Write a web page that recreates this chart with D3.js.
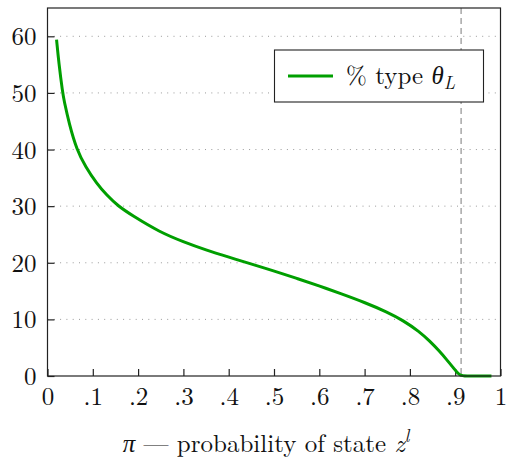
<!DOCTYPE html>
<html>
<head>
<meta charset="utf-8">
<script src="https://cdn.jsdelivr.net/npm/d3@7"></script>
<style>
  html, body { margin: 0; padding: 0; background: #fff; }
</style>
</head>
<body>
<div id="container"></div>
<script>
// Values
const piValues = [0.02, 0.025, 0.0335, 0.0364, 0.048, 0.0644, 0.084, 0.1086, 0.13, 0.156, 0.186, 0.248, 0.3, 0.35, 0.4, 0.443, 0.5, 0.55, 0.6, 0.646, 0.7, 0.75, 0.785, 0.82, 0.844, 0.865, 0.881, 0.897, 0.91, 0.925, 0.95, 0.98];
const pctTypeL = [59.4, 55.3, 50, 48.7, 44.5, 40, 36.95, 34.0, 32.0, 30, 28.4, 25.4, 23.7, 22.25, 21.0, 19.95, 18.55, 17.25, 15.9, 14.6, 13.0, 11.3, 9.8, 7.9, 6.15, 4.4, 2.9, 1.35, 0, 0, 0, 0];
const xTicks = [0, 0.1, 0.2, 0.3, 0.4, 0.5, 0.6, 0.7, 0.8, 0.9, 1];
const yTicks = [0, 10, 20, 30, 40, 50, 60];
const cutoff = 0.913;   // dashed vertical marker

const width = 510;
const height = 463;
const m = { left: 47.5, right: 500.5, top: 8, bottom: 376 };
const green = "#009f00";
const serif = "'Latin Modern Roman', 'Liberation Serif', serif";

const svg = d3.create("svg")
  .attr("width", width)
  .attr("height", height);
container.append(svg.node());

const x = d3.scaleLinear().domain([0, 1]).range([m.left, m.right]);
const y = d3.scaleLinear().domain([0, 65]).range([m.bottom, m.top]);

// dotted horizontal grid
svg.append("g")
  .selectAll("line")
  .data(yTicks.filter(d => d > 0))
  .join("line")
  .attr("x1", m.left).attr("x2", m.right)
  .attr("y1", d => y(d)).attr("y2", d => y(d))
  .attr("stroke", "#9a9a9a")
  .attr("stroke-width", 1)
  .attr("stroke-dasharray", "1,5.3");

// dashed cutoff line
svg.append("line")
  .attr("x1", x(cutoff)).attr("x2", x(cutoff))
  .attr("y1", m.top).attr("y2", m.bottom)
  .attr("stroke", "#7a7a7a")
  .attr("stroke-width", 1)
  .attr("stroke-dasharray", "6,4");

// axes (ticks point inward)
const fmtX = d => d === 0 ? "0" : d === 1 ? "1" : d3.format(".1f")(d).replace(/^0/, "");
const xAxis = svg.append("g")
  .attr("transform", `translate(0,${m.bottom})`)
  .call(d3.axisBottom(x).tickValues(xTicks).tickSize(-7).tickPadding(0).tickFormat(fmtX));
xAxis.select(".domain").remove();
xAxis.selectAll("line").attr("stroke", "#222").attr("stroke-width", 1.2);
xAxis.selectAll("text")
  .attr("y", 29).attr("dy", null)
  .style("font-family", serif)
  .style("font-size", "25px")
  .attr("fill", "#111");

const yAxis = svg.append("g")
  .attr("transform", `translate(${m.left},0)`)
  .call(d3.axisLeft(y).tickValues(yTicks).tickSize(-7).tickPadding(0));
yAxis.select(".domain").remove();
yAxis.selectAll("line").attr("stroke", "#222").attr("stroke-width", 1.2);
yAxis.selectAll("text")
  .attr("x", -11).attr("dy", "0.34em")
  .style("font-family", serif)
  .style("font-size", "25px")
  .attr("fill", "#111");

// the curve (B-spline smooths small reading errors)
const line = d3.line()
  .x(d => x(d[0]))
  .y(d => y(d[1]))
  .curve(d3.curveBasis);
svg.append("path")
  .datum(piValues.map((p, i) => [p, pctTypeL[i]]))
  .attr("fill", "none")
  .attr("stroke", green)
  .attr("stroke-width", 3)
  .attr("d", line);

// frame
svg.append("rect")
  .attr("x", m.left).attr("y", m.top)
  .attr("width", m.right - m.left).attr("height", m.bottom - m.top)
  .attr("fill", "none")
  .attr("stroke", "#222")
  .attr("stroke-width", 1.2);

// legend
const lg = svg.append("g");
lg.append("rect")
  .attr("x", 274.5).attr("y", 50)
  .attr("width", 209).attr("height", 52)
  .attr("fill", "#fff")
  .attr("stroke", "#222")
  .attr("stroke-width", 1.1);
lg.append("line")
  .attr("x1", 288).attr("x2", 333).attr("y1", 76).attr("y2", 76)
  .attr("stroke", green).attr("stroke-width", 3);
const lt = lg.append("text")
  .attr("x", 346).attr("y", 84)
  .style("font-family", serif)
  .style("font-size", "25px")
  .attr("fill", "#111");
lt.append("tspan").text("% type ");
lt.append("tspan").style("font-style", "italic").style("font-family", "'Liberation Serif', serif").text("θ");
lt.append("tspan").style("font-style", "italic").style("font-size", "18px").attr("dy", 5).text("L");

// x axis title
const xt = svg.append("text")
  .attr("x", 266).attr("y", 452)
  .attr("text-anchor", "middle")
  .style("font-family", serif)
  .style("font-size", "25px")
  .attr("fill", "#111");
xt.append("tspan").style("font-style", "italic").text("π");
xt.append("tspan").text(" — probability of state ");
xt.append("tspan").style("font-style", "italic").text("z");
xt.append("tspan").style("font-style", "italic").style("font-size", "18px").attr("dy", -10).text("l");
</script>
</body>
</html>
